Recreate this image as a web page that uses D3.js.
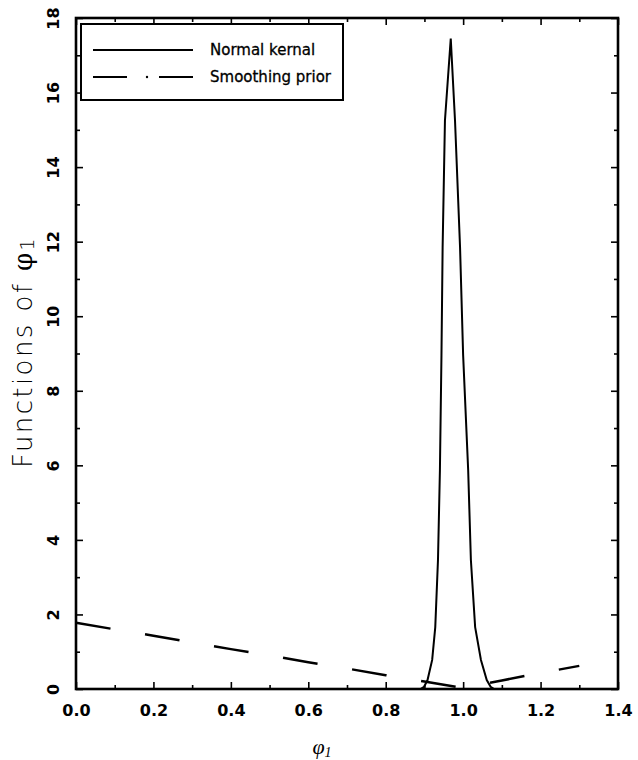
<!DOCTYPE html>
<html>
<head>
<meta charset="utf-8">
<script src="https://cdn.jsdelivr.net/npm/d3@7"></script>
<style>
  body { margin: 0; background: #fff; }
  .axis text { font-family: 'DejaVu Sans', sans-serif; font-size: 16px; font-weight: bold; fill: #000; }
  .axis line { stroke: #000; stroke-width: 1.6; }
  .axis .domain { display: none; }
</style>
</head>
<body>
<div id="chart"></div>
<script>
// Normal kernel (solid)
const kernelX = [0.890, 0.899, 0.908, 0.920, 0.928, 0.935, 0.940, 0.944, 0.947, 0.953, 0.968,
  0.979, 0.992, 1.000, 1.013, 1.020, 1.031, 1.046, 1.061, 1.071, 1.080]
const kernelY = [0, 0.06, 0.24, 0.78, 1.66, 3.46, 5.87, 8.95, 11.85, 15.25, 17.45,
  15.25, 11.85, 8.95, 5.87, 3.46, 1.66, 0.78, 0.24, 0.06, 0]

// Smoothing prior (dashed)
const priorX = [0, 0.1, 0.2, 0.3, 0.4, 0.5, 0.6, 0.7, 0.8, 0.9, 1.0, 1.1, 1.2, 1.3]
const priorY = [1.78, 1.6, 1.43, 1.25, 1.07, 0.9, 0.72, 0.55, 0.37, 0.2, 0.03, 0.23, 0.43, 0.62]

const xTicks = [0, 0.2, 0.4, 0.6, 0.8, 1.0, 1.2, 1.4]
const xMinorTicks = [0.1, 0.3, 0.5, 0.7, 0.9, 1.1, 1.3]
const yTicks = [0, 2, 4, 6, 8, 10, 12, 14, 16, 18]
const yMinorTicks = [1, 3, 5, 7, 9, 11, 13, 15, 17]
const legendLabels = ['Normal kernal', 'Smoothing prior']

const margin = { top: 18, left: 76, right: 20, bottom: 71 }
const width = 638 - margin.left - margin.right
const height = 760 - margin.top - margin.bottom

const root = d3
  .select('#chart')
  .append('svg')
  .attr('width', 638)
  .attr('height', 760)

const svg = root
  .append('g')
  .attr('transform', 'translate(' + margin.left + ',' + margin.top + ')')

const xPositionScale = d3.scaleLinear().domain([0, 1.4]).range([0, width])
const yPositionScale = d3.scaleLinear().domain([0, 18]).range([height, 0])

const line = d3
  .line()
  .x(d => xPositionScale(d[0]))
  .y(d => yPositionScale(d[1]))

// axes, ticks point inwards
svg
  .append('g')
  .attr('class', 'axis x-axis')
  .attr('transform', 'translate(0,' + height + ')')
  .call(d3.axisBottom(xPositionScale).tickValues(xTicks).tickSize(-7).tickPadding(16).tickFormat(d3.format('.1f')))

svg
  .append('g')
  .attr('class', 'axis')
  .attr('transform', 'translate(0,' + height + ')')
  .call(d3.axisBottom(xPositionScale).tickValues(xMinorTicks).tickSize(-4).tickFormat(''))

svg
  .append('g')
  .attr('class', 'axis')
  .call(d3.axisTop(xPositionScale).tickValues(xTicks).tickSize(-7).tickFormat(''))

svg
  .append('g')
  .attr('class', 'axis')
  .call(d3.axisTop(xPositionScale).tickValues(xMinorTicks).tickSize(-4).tickFormat(''))

const yAxis = svg
  .append('g')
  .attr('class', 'axis y-axis')
  .call(d3.axisLeft(yPositionScale).tickValues(yTicks).tickSize(-7).tickFormat(d3.format('d')))

// y labels are turned on their side
yAxis
  .selectAll('text')
  .attr('x', 0)
  .attr('y', 0)
  .attr('dy', null)
  .attr('text-anchor', 'middle')
  .attr('transform', 'translate(-17,0) rotate(-90)')

svg
  .append('g')
  .attr('class', 'axis')
  .call(d3.axisLeft(yPositionScale).tickValues(yMinorTicks).tickSize(-4).tickFormat(''))

svg
  .append('g')
  .attr('class', 'axis')
  .attr('transform', 'translate(' + width + ',0)')
  .call(d3.axisRight(yPositionScale).tickValues(yTicks).tickSize(-7).tickFormat(''))

svg
  .append('g')
  .attr('class', 'axis')
  .attr('transform', 'translate(' + width + ',0)')
  .call(d3.axisRight(yPositionScale).tickValues(yMinorTicks).tickSize(-4).tickFormat(''))

// frame
svg
  .append('rect')
  .attr('width', width)
  .attr('height', height)
  .attr('fill', 'none')
  .attr('stroke', '#000')
  .attr('stroke-width', 2.6)

// the lines
svg
  .append('path')
  .datum(priorX.map((x, i) => [x, priorY[i]]))
  .attr('class', 'prior-line')
  .attr('fill', 'none')
  .attr('stroke', '#000')
  .attr('stroke-width', 2.5)
  .attr('stroke-dasharray', '35,35')
  .attr('d', line)

svg
  .append('path')
  .datum(kernelX.map((x, i) => [x, kernelY[i]]))
  .attr('class', 'kernel-line')
  .attr('fill', 'none')
  .attr('stroke', '#000')
  .attr('stroke-width', 2)
  .attr('stroke-linejoin', 'miter')
  .attr('d', line)

// legend
const legend = root.append('g').attr('class', 'legend')

legend
  .append('rect')
  .attr('x', 81)
  .attr('y', 24)
  .attr('width', 262)
  .attr('height', 76)
  .attr('fill', '#fff')
  .attr('stroke', '#000')
  .attr('stroke-width', 2)

legend
  .append('line')
  .attr('x1', 93).attr('x2', 193)
  .attr('y1', 50).attr('y2', 50)
  .attr('stroke', '#000')
  .attr('stroke-width', 2)

legend
  .append('line')
  .attr('x1', 93).attr('x2', 193)
  .attr('y1', 77).attr('y2', 77)
  .attr('stroke', '#000')
  .attr('stroke-width', 2.2)
  .attr('stroke-dasharray', '34,32')

legend
  .append('circle')
  .attr('cx', 147).attr('cy', 77)
  .attr('r', 1.2)
  .attr('fill', '#000')

legend
  .selectAll('.legend-label')
  .data(legendLabels)
  .enter()
  .append('text')
  .attr('class', 'legend-label')
  .attr('x', 210)
  .attr('y', (d, i) => 55 + i * 27)
  .attr('font-family', "'DejaVu Sans', sans-serif")
  .attr('font-size', 15)
  .attr('stroke', '#000')
  .attr('stroke-width', 0.3)
  .text(d => d)

// axis titles
const yTitle = root
  .append('text')
  .attr('transform', 'translate(32,352) rotate(-90)')
  .attr('text-anchor', 'middle')
  .attr('font-family', "'DejaVu Sans', sans-serif")
  .attr('font-weight', 200)
  .attr('font-size', 26)
  .attr('letter-spacing', 2.4)
yTitle.append('tspan').text('Functions of ')
yTitle.append('tspan').attr('font-weight', 'normal').attr('font-family', "'DejaVu Serif', serif").text('φ')
yTitle.append('tspan').attr('font-size', 19).attr('dy', 2).text('1')

const xTitle = root
  .append('text')
  .attr('x', 322)
  .attr('y', 754)
  .attr('text-anchor', 'middle')
  .attr('font-family', "'Liberation Serif', serif")
  .attr('font-style', 'italic')
  .attr('font-size', 22)
xTitle.append('tspan').text('φ')
xTitle.append('tspan').attr('font-size', 14).attr('dy', 3).text('1')
</script>
</body>
</html>
